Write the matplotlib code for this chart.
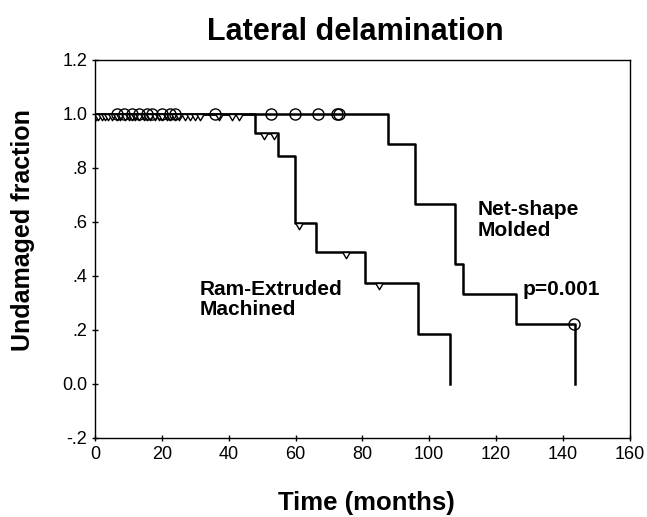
import numpy as np
import matplotlib
matplotlib.use("Agg")
import matplotlib.pyplot as plt
from matplotlib.path import Path

plt.rcParams['font.family'] = ['Liberation Sans', 'DejaVu Sans']

# Kaplan-Meier steps (months, fraction)
ram_times = [0, 47.8, 54.9, 59.9, 66.1, 80.9, 96.8, 106.2]
ram_surv = [1.0, 0.93, 0.845, 0.595, 0.49, 0.375, 0.185, 0.0]
net_times = [0, 87.8, 95.7, 107.8, 110.0, 125.9, 143.8]
net_surv = [1.0, 0.889, 0.667, 0.444, 0.333, 0.222, 0.0]

# censored observations (months)
ram_cens = [0.3, 1, 2, 3, 4, 5, 6.5, 7.5, 9, 10, 11, 12, 13, 14.5, 15.5, 16.5,
            18, 19, 20, 21.5, 22.5, 24, 25, 27, 28.5, 30, 31.5, 37, 41, 43,
            50.7, 53.5, 60.9, 75.1, 84.9]
net_cens = [6.5, 8.5, 11, 13, 15.5, 17, 20, 22.5, 24, 36, 52.7, 59.7, 66.6,
            72.3, 73.0, 143.4]

xticks = [0, 20, 40, 60, 80, 100, 120, 140, 160]
yticks = [-0.2, 0.0, 0.2, 0.4, 0.6, 0.8, 1.0, 1.2]
ytick_labels = ['-.2', '0.0', '.2', '.4', '.6', '.8', '1.0', '1.2']


def level_at(times, surv, t):
    idx = np.searchsorted(times, t, side='right') - 1
    return np.array(surv)[idx]


# open triangle hanging below the curve
tri = Path([(-1, 0), (1, 0), (0, -1.7), (-1, 0)],
           [Path.MOVETO, Path.LINETO, Path.LINETO, Path.CLOSEPOLY])

fig = plt.figure(figsize=(6.47, 5.17), dpi=100)
ax = fig.add_axes([0.147, 0.153, 0.826, 0.731])

ax.plot(ram_times, ram_surv, drawstyle='steps-post', color='black', lw=1.8)
ax.plot(net_times, net_surv, drawstyle='steps-post', color='black', lw=1.8)

ax.plot(ram_cens, level_at(ram_times, ram_surv, ram_cens), ls='none',
        marker=tri, ms=9, mfc='white', mec='black', mew=1.0)
ax.plot(net_cens, level_at(net_times, net_surv, net_cens), ls='none',
        marker='o', ms=8, mfc='none', mec='black', mew=1.0)

ax.set_xlim(0, 160)
ax.set_ylim(-0.2, 1.2)
ax.set_xticks(xticks)
ax.set_yticks(yticks)
ax.set_yticklabels(ytick_labels)
ax.tick_params(direction='inout', length=5, width=1, labelsize=13, pad=3)
for s in ax.spines.values():
    s.set_linewidth(1.0)

ax.text(31.3, 0.385, 'Ram-Extruded\nMachined', fontsize=15, fontweight='bold',
        va='top', ha='left', linespacing=1.1)
ax.text(114.6, 0.68, 'Net-shape\nMolded', fontsize=15, fontweight='bold',
        va='top', ha='left', linespacing=1.1)
ax.text(128, 0.35, 'p=0.001', fontsize=15, fontweight='bold',
        va='center', ha='left')

fig.text(0.549, 0.923, 'Lateral delamination', fontsize=22, fontweight='bold',
         ha='center', va='baseline')

ax.set_xlabel('Time (months)', fontsize=18.5, fontweight='bold', va='baseline')
ax.xaxis.set_label_coords(0.507, -0.19)
ax.set_ylabel('Undamaged fraction', fontsize=18, fontweight='bold', va='center')
ax.yaxis.set_label_coords(-0.135, 0.55)

fig.savefig('out.png', dpi=100)
